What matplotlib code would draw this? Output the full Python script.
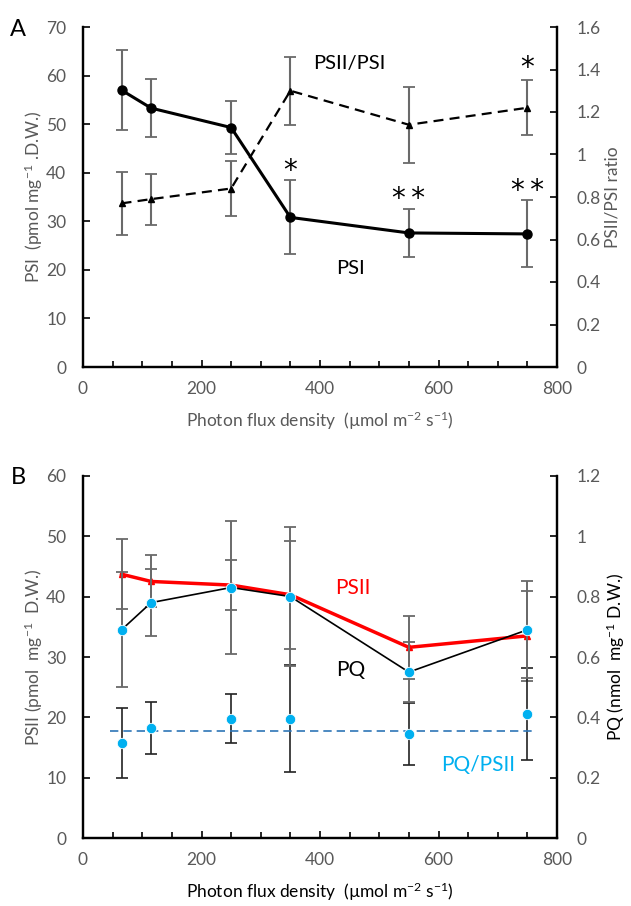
import matplotlib
matplotlib.use('Agg')
import matplotlib.pyplot as plt
from matplotlib.ticker import MultipleLocator, FuncFormatter

plt.rcParams['font.family'] = ['Lato', 'DejaVu Sans']
plt.rcParams['mathtext.fontset'] = 'custom'
plt.rcParams['mathtext.rm'] = 'Lato'
plt.rcParams['mathtext.it'] = 'Lato:italic'
plt.rcParams['mathtext.bf'] = 'Lato:bold'

# ---------------- data ----------------
ppfd = [65, 115, 250, 350, 550, 750]

# Panel A
psi = [57.0, 53.3, 49.3, 30.8, 27.6, 27.4]
psi_err = [8.3, 6.0, 5.4, 7.6, 5.0, 6.9]
ratio = [0.77, 0.79, 0.84, 1.30, 1.14, 1.22]
ratio_err = [0.15, 0.12, 0.13, 0.16, 0.18, 0.13]
sig_psi = ['', '', '', '*', '*\u2009*', '*\u2009*']
sig_ratio = ['', '', '', '', '', '*']

# Panel B
psii = [43.7, 42.5, 41.9, 40.3, 31.6, 33.5]
psii_err = [5.8, 4.3, 4.1, 8.9, 5.2, 7.5]
pq = [0.69, 0.78, 0.83, 0.80, 0.55, 0.69]
pq_err = [0.19, 0.11, 0.22, 0.23, 0.10, 0.16]
pq_psii = [15.7, 18.2, 19.8, 19.8, 17.3, 20.5]
pq_psii_err = [5.8, 4.3, 4.1, 8.8, 5.1, 7.6]
trend_x = [45, 760]
trend_y = [17.7, 17.7]

GRAY = '#595959'
ECOL = '#6a6a6a'
CYAN = '#00B0F0'

fig = plt.figure(figsize=(6.31, 9.06), dpi=100)


def style(ax, twin, ymax_l, ystep_l, ymax_r, ystep_r):
    ax.set_xlim(0, 800)
    ax.set_ylim(0, ymax_l)
    twin.set_ylim(0, ymax_r)
    ax.xaxis.set_major_locator(MultipleLocator(200))
    ax.xaxis.set_minor_locator(MultipleLocator(50))
    ax.yaxis.set_major_locator(MultipleLocator(ystep_l))
    twin.yaxis.set_major_locator(MultipleLocator(ystep_r))
    for a in (ax, twin):
        a.spines['top'].set_visible(False)
        for s in ('left', 'right', 'bottom'):
            a.spines[s].set_linewidth(1.6)
            a.spines[s].set_color('black')
    ax.tick_params(axis='x', which='major', direction='in', length=5, width=1.2,
                   labelsize=12.5, labelcolor=GRAY, pad=10)
    ax.tick_params(axis='x', which='minor', direction='in', length=4, width=1.2)
    ax.tick_params(axis='y', direction='in', length=5, width=1.2,
                   labelsize=12.5, labelcolor=GRAY, pad=12)
    twin.tick_params(axis='y', direction='in', length=5, width=1.2,
                     labelsize=12.5, labelcolor=GRAY, pad=14)
    ax.yaxis.set_major_formatter(FuncFormatter(lambda v, p: f'{v:g}'))
    twin.yaxis.set_major_formatter(FuncFormatter(lambda v, p: f'{v:g}'))


# ---------------- Panel A ----------------
axA = fig.add_axes([83 / 631, 1 - 367 / 906, 474 / 631, 340 / 906])
axA2 = axA.twinx()
style(axA, axA2, 70, 10, 1.6, 0.2)

axA.errorbar(ppfd, psi, yerr=psi_err, fmt='none', ecolor=ECOL, elinewidth=1.5,
             capsize=4, capthick=1.3, zorder=2)
axA.plot(ppfd, psi, color='black', lw=2.2, marker='o', ms=6.5, zorder=3)
axA2.errorbar(ppfd, ratio, yerr=ratio_err, fmt='none', ecolor=ECOL, elinewidth=1.5,
              capsize=4, capthick=1.3, zorder=2)
axA2.plot(ppfd, ratio, color='black', lw=1.6, ls=(0, (4.5, 2.8)), marker='^', ms=4.5,
          zorder=3)

for x, y, e, s in zip(ppfd, psi, psi_err, sig_psi):
    if s:
        axA.text(x, y + e + 2.0, s, ha='center', va='center', fontsize=20,
                 family='DejaVu Sans')
for x, y, e, s in zip(ppfd, ratio, ratio_err, sig_ratio):
    if s:
        axA2.text(x, y + e + 0.055, s, ha='center', va='center', fontsize=20,
                  family='DejaVu Sans')

axA2.text(449, 1.43, 'PSII/PSI', ha='center', va='center', fontsize=14.5)
axA.text(451, 20.2, 'PSI', ha='center', va='center', fontsize=14.5)

axA.set_ylabel('PSI  (pmol mg$^{-1}$ .D.W.)', fontsize=12.5, color=GRAY, labelpad=1)
axA2.set_ylabel('PSII/PSI ratio', fontsize=12.5, color=GRAY, labelpad=3)
axA.set_xlabel('Photon flux density  (µmol m$^{-2}$ s$^{-1}$)', fontsize=12.5,
               color=GRAY, labelpad=9)
fig.text(18 / 631, 1 - 30 / 906, 'A', fontsize=17, ha='center', va='center')

# ---------------- Panel B ----------------
axB = fig.add_axes([83 / 631, 1 - 838.3 / 906, 474 / 631, 362.6 / 906])
axB2 = axB.twinx()
style(axB, axB2, 60, 10, 1.2, 0.2)

axB.errorbar(ppfd, psii, yerr=psii_err, fmt='none', ecolor=ECOL, elinewidth=1.4,
             capsize=4, capthick=1.3, zorder=2)
axB.errorbar(ppfd, pq_psii, yerr=pq_psii_err, fmt='none', ecolor='#222222',
             elinewidth=1.2, capsize=4, capthick=1.2, zorder=2)
axB.plot(trend_x, trend_y, color='#2E75B6', lw=1.2, ls=(0, (5, 3)), zorder=2.5)
axB.plot(ppfd, pq_psii, ls='none', marker='o', ms=7.5, mfc=CYAN, mec='white',
         mew=0.6, zorder=3)
axB.plot(ppfd, psii, color='#FF0000', lw=2.5, marker='^', ms=5, mec='#FF0000',
         zorder=3)

axB2.errorbar(ppfd, pq, yerr=pq_err, fmt='none', ecolor=ECOL, elinewidth=1.4,
              capsize=4, capthick=1.3, zorder=2)
axB2.plot(ppfd, pq, color='black', lw=1.2, marker='o', ms=7.5, mfc=CYAN, mec='white',
          mew=0.6, zorder=3)

axB.text(456, 41.4, 'PSII', ha='center', va='center', fontsize=15, color='#FF0000')
axB.text(452, 27.9, 'PQ', ha='center', va='center', fontsize=15, color='black')
axB.text(667, 12.2, 'PQ/PSII', ha='center', va='center', fontsize=15, color=CYAN)

axB.set_ylabel('PSII (pmol  mg$^{-1}$  D.W.)', fontsize=12.5, color=GRAY, labelpad=1)
axB2.set_ylabel('PQ (nmol  mg$^{-1}$ D.W.)', fontsize=12.5, color='black', labelpad=3)
axB.set_xlabel('Photon flux density  (µmol m$^{-2}$ s$^{-1}$)', fontsize=12.5,
               color='black', labelpad=9)
fig.text(18 / 631, 1 - 478 / 906, 'B', fontsize=17, ha='center', va='center')

fig.savefig('out.png', dpi=100)
